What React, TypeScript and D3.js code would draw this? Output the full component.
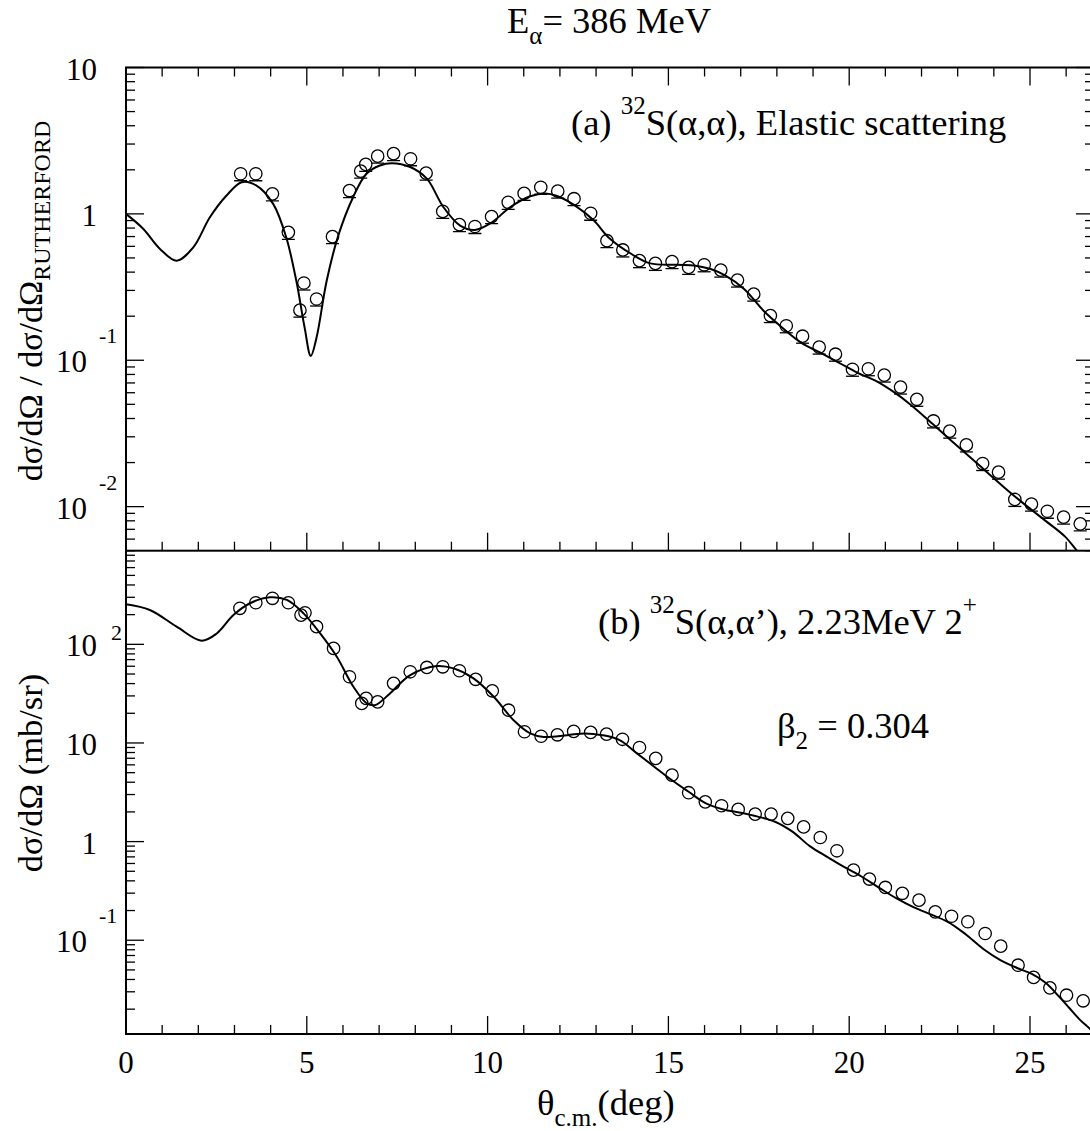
import { useEffect, useRef } from "react";
import * as d3 from "d3";

// (a) elastic: theta_cm (deg), ratio to Rutherford
const elasticData: [number, number][] = [
  [3.17, 1.88], [3.59, 1.88], [4.05, 1.37], [4.49, 0.748], [4.81, 0.22],
  [4.92, 0.337], [5.27, 0.262], [5.71, 0.699], [6.18, 1.443], [6.49, 1.96],
  [6.63, 2.18], [6.96, 2.48], [7.4, 2.58], [7.87, 2.38], [8.3, 1.9],
  [8.76, 1.04], [9.22, 0.845], [9.65, 0.82], [10.11, 0.958], [10.57, 1.2],
  [11.01, 1.38], [11.47, 1.52], [11.94, 1.43], [12.39, 1.27], [12.85, 1.01],
  [13.3, 0.656], [13.74, 0.567], [14.2, 0.479], [14.64, 0.459], [15.1, 0.472],
  [15.56, 0.431], [15.99, 0.449], [16.45, 0.413], [16.91, 0.353], [17.36, 0.283],
  [17.82, 0.202], [18.26, 0.172], [18.71, 0.146], [19.17, 0.123], [19.62, 0.11],
  [20.09, 0.0868], [20.53, 0.0875], [20.97, 0.0792], [21.42, 0.0656], [21.87, 0.0541],
  [22.33, 0.0385], [22.78, 0.0328], [23.24, 0.0264], [23.69, 0.0197], [24.13, 0.0172],
  [24.58, 0.0112], [25.04, 0.0104], [25.48, 0.0093], [25.93, 0.00848], [26.39, 0.00763],
];

const elasticFit: [number, number][] = [
  [0, 1.0], [0.48, 0.789], [0.94, 0.576], [1.4, 0.479], [1.86, 0.591], [2.32, 0.948],
  [2.78, 1.335], [3.2, 1.646], [3.61, 1.56], [4.07, 1.17], [4.43, 0.692], [4.71, 0.349],
  [4.94, 0.167], [5.11, 0.107], [5.27, 0.143], [5.55, 0.349], [5.87, 0.71], [6.28, 1.3],
  [6.65, 1.88], [7.02, 2.14], [7.35, 2.22], [7.86, 2.09], [8.32, 1.74], [8.78, 1.11],
  [9.24, 0.832], [9.65, 0.777], [10.12, 0.876], [10.62, 1.11], [11.18, 1.32], [11.6, 1.38],
  [11.9, 1.33], [12.42, 1.14], [12.94, 0.9], [13.36, 0.685], [13.98, 0.532], [14.5, 0.459],
  [15.23, 0.449], [15.75, 0.443], [16.17, 0.42], [16.58, 0.378], [17.1, 0.306], [17.63, 0.218],
  [18.15, 0.167], [18.67, 0.132], [19.19, 0.113], [19.71, 0.0965], [20.23, 0.082], [20.75, 0.072],
  [21.27, 0.0598], [21.69, 0.0499], [22.32, 0.0365], [22.84, 0.028], [23.36, 0.0216],
  [23.88, 0.0166], [24.4, 0.0128], [24.93, 0.01], [25.45, 0.00793], [25.97, 0.00624],
  [26.29, 0.00502], [26.6, 0.0041],
];

// (b) inelastic 2+ : theta_cm (deg), mb/sr
const inelasticData: [number, number][] = [
  [3.15, 232], [3.59, 264], [4.05, 293], [4.49, 264], [4.84, 198], [4.95, 209],
  [5.27, 151], [5.74, 91], [6.18, 46.9], [6.52, 25.2], [6.64, 28.3], [6.96, 26.1],
  [7.4, 40.2], [7.86, 52.7], [8.32, 58.3], [8.76, 59.2], [9.22, 54], [9.67, 44.2],
  [10.13, 33.8], [10.58, 21.5], [11.02, 13.0], [11.48, 11.7], [11.93, 12.1], [12.38, 13.1],
  [12.85, 12.8], [13.29, 12.3], [13.73, 10.9], [14.2, 9.0], [14.65, 6.98], [15.1, 4.72],
  [15.56, 3.13], [16.02, 2.53], [16.47, 2.31], [16.93, 2.12], [17.4, 1.9], [17.84, 1.9],
  [18.3, 1.72], [18.74, 1.41], [19.2, 1.1], [19.66, 0.807], [20.12, 0.514], [20.56, 0.417],
  [21.0, 0.343], [21.47, 0.299], [21.93, 0.255], [22.38, 0.194], [22.83, 0.175], [23.28, 0.154],
  [23.76, 0.117], [24.19, 0.0871], [24.67, 0.0558], [25.1, 0.042], [25.55, 0.0329],
  [26.01, 0.0277], [26.47, 0.0243],
];

const inelasticFit: [number, number][] = [
  [0, 255], [0.66, 223], [1.4, 151], [2.09, 109], [2.51, 129], [2.97, 198], [3.43, 261],
  [3.98, 300], [4.45, 282], [4.91, 206], [5.37, 129], [5.83, 74.8], [6.29, 37.1], [6.66, 25.2],
  [6.89, 24.2], [7.3, 31.8], [7.86, 48.8], [8.6, 60.3], [9.06, 57], [9.61, 45.2], [10.17, 29.4],
  [10.72, 17.0], [11.18, 12.5], [11.55, 11.5], [12.2, 12.0], [12.69, 12.5], [13.17, 12.0],
  [13.65, 10.7], [14.13, 7.85], [14.61, 5.74], [15.09, 4.21], [15.56, 3.2], [16.04, 2.44],
  [16.52, 2.12], [17.0, 1.96], [17.47, 1.79], [17.95, 1.59], [18.43, 1.26], [18.91, 0.9],
  [19.39, 0.7], [19.87, 0.55], [20.35, 0.44], [20.83, 0.34], [21.31, 0.265], [21.79, 0.215],
  [22.27, 0.182], [22.75, 0.152], [23.22, 0.115], [23.7, 0.082], [24.18, 0.063], [24.66, 0.052],
  [25.05, 0.0455], [25.43, 0.037], [25.81, 0.0267], [26.1, 0.0203], [26.39, 0.0155],
  [26.67, 0.0125], [26.85, 0.0105],
];

const X_LABELS = [0, 5, 10, 15, 20, 25];
const TOP_Y_LABELS = [
  { v: 10, base: "10", sup: "" },
  { v: 1, base: "1", sup: "" },
  { v: 0.1, base: "10", sup: "-1" },
  { v: 0.01, base: "10", sup: "-2" },
];
const BOTTOM_Y_LABELS = [
  { v: 100, base: "10", sup: "2" },
  { v: 10, base: "10", sup: "" },
  { v: 1, base: "1", sup: "" },
  { v: 0.1, base: "10", sup: "-1" },
];

const FONT = "'Liberation Serif'";

function logTicks(lo: number, hi: number) {
  const out: { v: number; major: boolean }[] = [];
  for (let e = Math.floor(Math.log10(lo)); e <= Math.ceil(Math.log10(hi)); e++) {
    for (let k = 1; k < 10; k++) {
      const v = k * Math.pow(10, e);
      if (v >= lo * 0.999 && v <= hi * 1.001) out.push({ v, major: k === 1 });
    }
  }
  return out;
}

export default function App() {
  const ref = useRef<SVGSVGElement>(null);

  useEffect(() => {
    const svg = d3.select(ref.current);
    svg.selectAll("*").remove();

    const left = 126;
    const right = 1094;
    const topY0 = 67.5;
    const mid = 550.7;
    const botY1 = 1034;
    const major = 18;
    const minor = 9;

    const x = d3.scaleLinear().domain([0, 26.77]).range([left, right]);
    const yTop = d3.scaleLog().domain([0.005, 10]).range([mid, topY0]);
    const yBot = d3.scaleLog().domain([0.0112, 890]).range([botY1, mid]);

    const defs = svg.append("defs");
    defs.append("clipPath").attr("id", "clipTop")
      .append("rect").attr("x", left).attr("y", topY0).attr("width", right - left).attr("height", mid - topY0);
    defs.append("clipPath").attr("id", "clipBot")
      .append("rect").attr("x", left).attr("y", mid).attr("width", right - left).attr("height", botY1 - mid);

    const ticks = svg.append("g").attr("stroke", "#000").attr("stroke-width", 1.3);
    const xTicks = d3.range(0, 27);

    // x ticks: top of panel a (down), bottom of panel a (up), bottom of panel b (up)
    xTicks.forEach((t) => {
      const len = t % 5 === 0 ? major : minor;
      const px = x(t);
      ticks.append("line").attr("x1", px).attr("x2", px).attr("y1", topY0).attr("y2", topY0 + len);
      ticks.append("line").attr("x1", px).attr("x2", px).attr("y1", mid).attr("y2", mid - len);
      ticks.append("line").attr("x1", px).attr("x2", px).attr("y1", botY1).attr("y2", botY1 - len);
    });

    // y ticks
    logTicks(0.005, 10).forEach((t) => {
      const len = t.major ? major : minor;
      const py = yTop(t.v);
      ticks.append("line").attr("x1", left).attr("x2", left + len).attr("y1", py).attr("y2", py);
      ticks.append("line").attr("x1", right).attr("x2", right - len).attr("y1", py).attr("y2", py);
    });
    logTicks(0.0112, 890).forEach((t) => {
      const len = t.major ? major : minor;
      const py = yBot(t.v);
      ticks.append("line").attr("x1", left).attr("x2", left + len).attr("y1", py).attr("y2", py);
    });

    // frames
    const frame = svg.append("g").attr("fill", "none").attr("stroke", "#000").attr("stroke-width", 2);
    frame.append("rect").attr("x", left).attr("y", topY0).attr("width", right - left).attr("height", mid - topY0);
    frame.append("path").attr("d", `M${left},${mid} V${botY1} H${right}`);

    const line = (ys: d3.ScaleLogarithmic<number, number>) =>
      d3.line<[number, number]>()
        .x((d) => x(d[0]))
        .y((d) => ys(d[1]))
        .curve(d3.curveCatmullRom.alpha(0.5));

    // panel a
    const ga = svg.append("g").attr("clip-path", "url(#clipTop)");
    ga.append("path").datum(elasticFit).attr("fill", "none").attr("stroke", "#000")
      .attr("stroke-width", 2).attr("d", line(yTop));
    ga.selectAll("circle").data(elasticData).join("circle")
      .attr("cx", (d) => x(d[0])).attr("cy", (d) => yTop(d[1])).attr("r", 6.2)
      .attr("fill", "none").attr("stroke", "#000").attr("stroke-width", 1.3);
    ga.selectAll("line.cap").data(elasticData).join("line").attr("class", "cap")
      .attr("x1", (d) => x(d[0]) - 6.5).attr("x2", (d) => x(d[0]) + 6.5)
      .attr("y1", (d) => yTop(d[1]) + 7).attr("y2", (d) => yTop(d[1]) + 7)
      .attr("stroke", "#000").attr("stroke-width", 1.3);

    // panel b
    const gb = svg.append("g").attr("clip-path", "url(#clipBot)");
    gb.append("path").datum(inelasticFit).attr("fill", "none").attr("stroke", "#000")
      .attr("stroke-width", 2).attr("d", line(yBot));
    gb.selectAll("circle").data(inelasticData).join("circle")
      .attr("cx", (d) => x(d[0])).attr("cy", (d) => yBot(d[1])).attr("r", 6.2)
      .attr("fill", "none").attr("stroke", "#000").attr("stroke-width", 1.3);

    // all text gets the serif face set directly
    const txt = svg.append("g").attr("fill", "#000");
    const addText = (size: number, xPos: number, yPos: number, anchor = "start") =>
      txt.append("text")
        .style("font-family", FONT)
        .style("font-size", `${size}px`)
        .attr("x", xPos).attr("y", yPos)
        .attr("text-anchor", anchor);

    X_LABELS.forEach((t) => {
      addText(31, x(t), 1073, "middle").text(String(t));
    });

    const yLabel = (ys: d3.ScaleLogarithmic<number, number>, lab: { v: number; base: string; sup: string }) => {
      const py = ys(lab.v);
      if (!lab.sup) {
        addText(31, 97, py + 12, "end").text(lab.base);
      } else if (lab.sup.startsWith("-")) {
        addText(31, 87, py + 12, "end").text(lab.base);
        addText(22, 99, py - 17).text(lab.sup);
      } else {
        addText(31, 97, py + 12, "end").text(lab.base);
        addText(22, 111, py - 4).text(lab.sup);
      }
    };
    TOP_Y_LABELS.forEach((l) => yLabel(yTop, l));
    BOTTOM_Y_LABELS.forEach((l) => yLabel(yBot, l));

    const big = 36.5;
    const small = "25px";

    // title
    const title = addText(big, 507, 33);
    title.append("tspan").text("E");
    title.append("tspan").style("font-size", small).attr("dy", 11).text("α");
    title.append("tspan").attr("dy", -11).text("= 386 MeV");

    // x axis title
    const xt = addText(big, 537, 1115);
    xt.append("tspan").text("θ");
    xt.append("tspan").style("font-size", small).attr("dy", 11).text("c.m.");
    xt.append("tspan").attr("dy", -11).text("(deg)");

    // y axis titles
    const ya = addText(34, 0, 0, "middle").attr("transform", "translate(42,301) rotate(-90)");
    ya.append("tspan").text("dσ/dΩ / dσ/dΩ");
    ya.append("tspan").style("font-size", "24px").attr("dy", 8).text("RUTHERFORD");

    addText(34.5, 0, 0, "middle").attr("transform", "translate(42,773) rotate(-90)").text("dσ/dΩ (mb/sr)");

    // panel annotations
    const la = addText(big, 571, 135);
    la.append("tspan").text("(a) ");
    la.append("tspan").style("font-size", small).attr("dy", -21).text("32");
    la.append("tspan").attr("dy", 21).text("S(α,α), Elastic scattering");

    const lb = addText(big, 598, 634);
    lb.append("tspan").text("(b) ");
    lb.append("tspan").style("font-size", small).attr("dy", -21).text("32");
    lb.append("tspan").attr("dy", 21).text("S(α,α’), 2.23MeV 2");
    lb.append("tspan").style("font-size", small).attr("dy", -21).text("+");

    const beta = addText(big, 777, 738);
    beta.append("tspan").text("β");
    beta.append("tspan").style("font-size", small).attr("dy", 11).text("2");
    beta.append("tspan").attr("dy", -11).text(" = 0.304");
  }, []);

  return (
    <svg
      ref={ref}
      width={1090}
      height={1131}
      style={{ position: "absolute", left: 0, top: 0, background: "#fff" }}
    />
  );
}
